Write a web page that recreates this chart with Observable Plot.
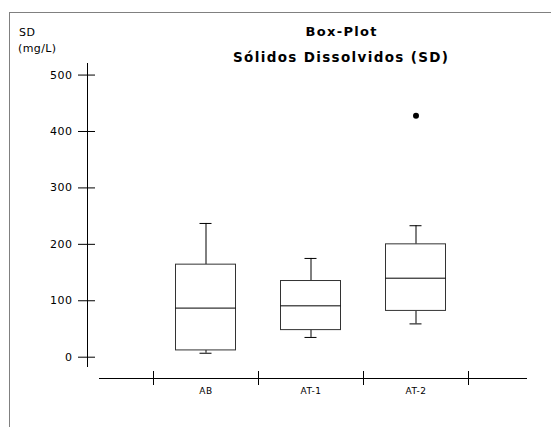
<!DOCTYPE html>
<html>
<head>
<meta charset="utf-8">
<script src="https://cdn.jsdelivr.net/npm/d3@7"></script>
<script src="https://cdn.jsdelivr.net/npm/@observablehq/plot@0.6"></script>
<style>
  html, body { margin: 0; padding: 0; background: #fff; }
  #wrap { position: relative; width: 551px; height: 427px; overflow: hidden; }
  #border { position: absolute; left: 9px; top: 12px; right: -2px; bottom: -2px;
            border-left: 1px solid #808080; border-top: 1px solid #808080; }
  #chart { position: absolute; left: 0; top: 0; }
  #labels { position: absolute; left: 0; top: 0; }
</style>
</head>
<body>
<div id="wrap">
  <div id="border"></div>
  <div id="chart"></div>
  <svg id="labels" width="551" height="427" font-family="DejaVu Sans, Liberation Sans, Arial, sans-serif" fill="#000">
    <text x="341" y="35.5" text-anchor="middle" font-size="13" font-weight="bold" textLength="71" lengthAdjust="spacing">Box-Plot</text>
    <text x="340.5" y="61.5" text-anchor="middle" font-size="13.5" font-weight="bold" textLength="215" lengthAdjust="spacing">Sólidos Dissolvidos (SD)</text>
    <text x="19" y="36" font-size="11" letter-spacing="0.6">SD</text>
    <text x="18" y="52" font-size="11" letter-spacing="0.4">(mg/L)</text>
  </svg>
</div>
<script>
// ---- data ----
const categories   = ["AB", "AT-1", "AT-2"];
const whiskerLow   = [7, 35, 59];
const quartile1    = [12, 48, 82];
const medians      = [87, 91, 140];
const quartile3    = [164, 135, 200];
const whiskerHigh  = [237, 175, 233];
const outlierCats  = ["AT-2"];
const outlierVals  = [428];
const yTicks       = [0, 100, 200, 300, 400, 500];

const rows = categories.map((c, i) => ({
  cat: c, lo: whiskerLow[i], q1: quartile1[i], med: medians[i], q3: quartile3[i], hi: whiskerHigh[i]
}));
const outliers = outlierCats.map((c, i) => ({cat: c, v: outlierVals[i]}));

const bw = 105;            // band width in px
const boxInset = 22.5;     // -> box width 60
const capInset = 46.5;     // -> cap width 12

const chart = Plot.plot({
  width: 551,
  height: 427,
  marginLeft: 87,
  marginRight: 25,
  marginTop: 63,
  marginBottom: 61,
  style: {fontFamily: "DejaVu Sans, Liberation Sans, Arial, sans-serif", fontSize: "11px", background: "transparent", letterSpacing: "0.5px"},
  x: {type: "band", domain: categories, range: [153, 153 + bw * categories.length], padding: 0, label: null},
  y: {domain: [-16.5, 520.5], label: null},
  marks: [
    // y axis line and x axis line
    Plot.frame({anchor: "left", stroke: "#000"}),
    Plot.frame({anchor: "bottom", stroke: "#000", dy: 12, insetLeft: 12}),
    // y ticks crossing the axis line
    Plot.axisY(yTicks, {tickSize: 17, dx: 8, tickPadding: 6, stroke: "#000", fill: "#000", fontSize: 11, label: null}),
    // x labels
    Plot.axisX({tickSize: 0, tickPadding: 21.5, fontSize: 9, fill: "#000", label: null}),
    // x boundary ticks
    Plot.ruleX(categories, {x: d => d, dx: -bw / 2, insetTop: 308, insetBottom: -19, stroke: "#000"}),
    Plot.ruleX(categories.slice(-1), {x: d => d, dx: bw / 2, insetTop: 308, insetBottom: -19, stroke: "#000"}),
    // whiskers
    Plot.ruleX(rows, {x: "cat", y1: "lo", y2: "q1", stroke: "#000"}),
    Plot.ruleX(rows, {x: "cat", y1: "q3", y2: "hi", stroke: "#000"}),
    Plot.tickY(rows, {x: "cat", y: "lo", insetLeft: capInset, insetRight: capInset, stroke: "#000"}),
    Plot.tickY(rows, {x: "cat", y: "hi", insetLeft: capInset, insetRight: capInset, stroke: "#000"}),
    // boxes
    Plot.barY(rows, {x: "cat", y1: "q1", y2: "q3", fill: "#fff", stroke: "#333", insetLeft: boxInset, insetRight: boxInset}),
    Plot.tickY(rows, {x: "cat", y: "med", insetLeft: boxInset, insetRight: boxInset, stroke: "#000"}),
    // outliers
    Plot.dot(outliers, {x: "cat", y: "v", r: 3, fill: "#000", stroke: null})
  ]
});
document.getElementById("chart").appendChild(chart);
</script>
</body>
</html>
